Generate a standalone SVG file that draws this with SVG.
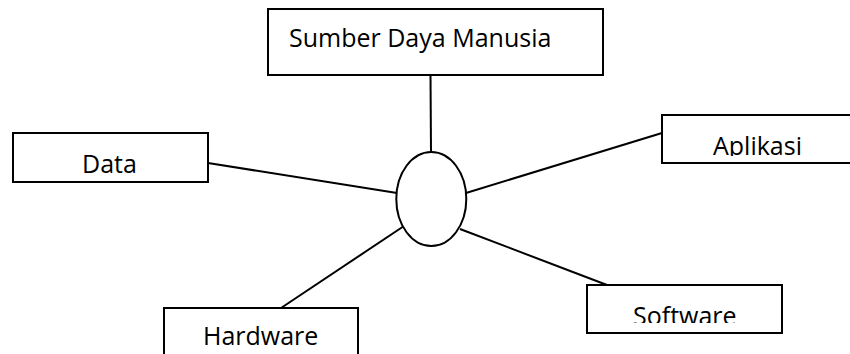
<svg xmlns="http://www.w3.org/2000/svg" width="850" height="354" viewBox="0 0 850 354">
  <style>
    .box { fill: #ffffff; stroke: #000000; stroke-width: 2; }
    .lbl { font-family: "Open Sans", "Liberation Sans", sans-serif; font-size: 25px; fill: #000000; }
    .link { stroke: #000000; stroke-width: 2; fill: none; }
  </style>
  <defs>
    <clipPath id="clipAplikasi"><rect x="664" y="116" width="190" height="40"/></clipPath>
    <clipPath id="clipSoftware"><rect x="588" y="286" width="193" height="37"/></clipPath>
  </defs>
  <rect width="850" height="354" fill="#ffffff"/>

  <g id="connectors">
    <line class="link" x1="430.5" y1="75" x2="431" y2="152"/>
    <line class="link" x1="208" y1="163" x2="397" y2="193"/>
    <line class="link" x1="466" y1="193" x2="662" y2="133"/>
    <line class="link" x1="281" y1="308" x2="407" y2="224"/>
    <line class="link" x1="460" y1="229" x2="607" y2="285"/>
  </g>

  <g id="hub">
    <ellipse class="box" cx="431.3" cy="199" rx="35" ry="47"/>
  </g>

  <g id="node-sdm">
    <rect class="box" x="268" y="9" width="335" height="66"/>
    <text class="lbl" x="289" y="47">Sumber Daya Manusia</text>
  </g>

  <g id="node-data">
    <rect class="box" x="13" y="133" width="195" height="49"/>
    <text class="lbl" x="82" y="173">Data</text>
  </g>

  <g id="node-aplikasi">
    <rect class="box" x="662" y="115" width="200" height="48"/>
    <text class="lbl" x="713" y="155" clip-path="url(#clipAplikasi)">Aplikasi</text>
  </g>

  <g id="node-hardware">
    <rect class="box" x="164" y="308" width="194" height="60"/>
    <text class="lbl" x="203" y="345">Hardware</text>
  </g>

  <g id="node-software">
    <rect class="box" x="587" y="285" width="195" height="48"/>
    <text class="lbl" x="633" y="325" clip-path="url(#clipSoftware)">Software</text>
  </g>
</svg>
